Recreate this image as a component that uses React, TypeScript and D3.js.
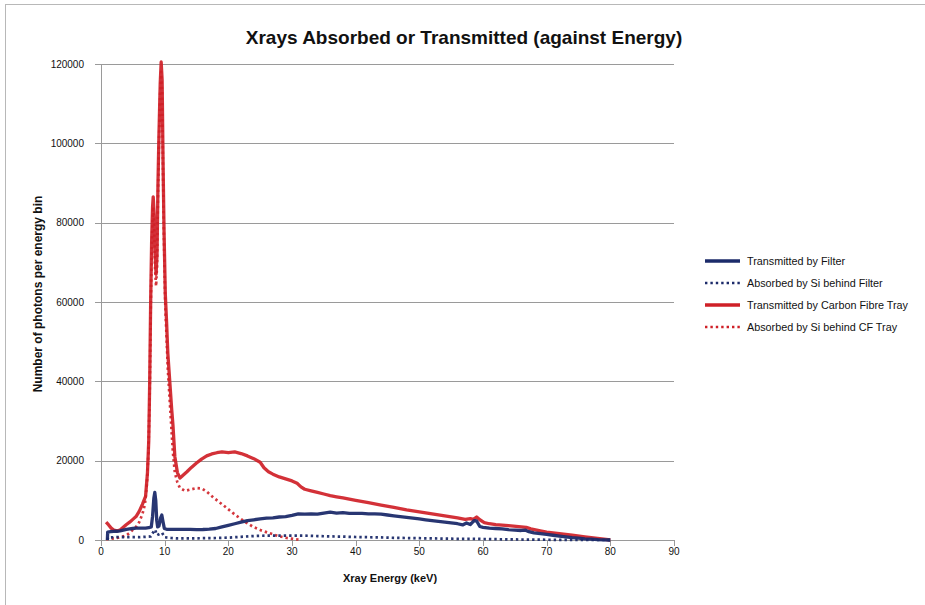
import React from "react";
import * as d3 from "d3";

const title = "Xrays Absorbed or Transmitted (against Energy)";
const xTicks = [0, 10, 20, 30, 40, 50, 60, 70, 80, 90];
const yTicks = [0, 20000, 40000, 60000, 80000, 100000, 120000];
const seriesNames = [
  "Transmitted by Filter",
  "Absorbed by Si behind Filter",
  "Transmitted by Carbon Fibre Tray",
  "Absorbed by Si behind CF Tray",
];

const transFilter: [number, number][] = [
  [1.0, 0], [1.05, 2000], [1.5, 2100], [2, 2200], [2.5, 2200], [3, 2300], [3.5, 2500], [4, 2700],
  [4.5, 2800], [5, 2900], [5.5, 3000], [6, 3000], [6.5, 3000], [7, 3000], [7.5, 3100], [7.9, 3300],
  [8.1, 6000], [8.3, 10500], [8.45, 12000], [8.6, 10000], [8.75, 5000], [8.9, 3300], [9.1, 3500],
  [9.35, 5500], [9.55, 6300], [9.75, 4500], [9.95, 2900], [10.3, 2700], [11, 2700], [12, 2700],
  [13, 2700], [14, 2700], [15, 2600], [16, 2650], [17, 2750], [18, 2900], [19, 3300], [20, 3700],
  [21, 4100], [22, 4500], [23, 4900], [24, 5100], [25, 5300], [26, 5500], [27, 5600], [28, 5800],
  [29, 5900], [30, 6200], [31, 6600], [32, 6500], [33, 6600], [34, 6500], [35, 6800], [36, 7000],
  [37, 6800], [38, 6900], [39, 6700], [40, 6700], [41, 6700], [42, 6600], [43, 6600], [44, 6500],
  [45, 6300], [46, 6100], [47, 5900], [48, 5700], [49, 5500], [50, 5300], [51, 5100], [52, 4900],
  [53, 4700], [54, 4500], [55, 4300], [56, 4100], [56.8, 3800], [57.4, 4300], [58, 3900],
  [58.6, 4900], [59, 4800], [59.5, 3400], [60, 3200], [61, 3000], [62, 2900], [63, 2800],
  [64, 2600], [65, 2500], [66, 2400], [66.6, 2500], [67.2, 2100], [68, 1800], [69, 1600],
  [70, 1400], [71, 1200], [72, 1000], [73, 800], [74, 600], [75, 450], [76, 300], [77, 200],
  [78, 100], [79, 50], [80, 0],
];

const absFilter: [number, number][] = [
  [1.0, 0], [1.1, 600], [2, 700], [3, 700], [4, 700], [5, 700], [6, 700], [7, 800], [7.8, 900],
  [8.3, 2200], [8.5, 2600], [8.8, 1200], [9.3, 1600], [9.6, 1800], [10, 700], [11, 500], [12, 400],
  [14, 400], [16, 450], [18, 500], [20, 600], [22, 800], [24, 1000], [26, 1100], [28, 1100],
  [30, 1100], [32, 1100], [34, 1000], [36, 900], [38, 850], [40, 750], [42, 700], [44, 650],
  [46, 550], [48, 500], [50, 450], [52, 400], [54, 350], [56, 300], [58, 300], [60, 250],
  [62, 200], [64, 150], [66, 120], [68, 100], [70, 60], [72, 40], [74, 20], [76, 10], [78, 5], [80, 0],
];

const transCF: [number, number][] = [
  [0.8, 4500], [1.2, 3800], [1.6, 3000], [2.0, 2500], [2.5, 2300], [3.0, 2500], [3.5, 3200],
  [4.0, 3900], [4.5, 4500], [5.0, 5200], [5.5, 5900], [6.0, 7200], [6.5, 9000], [7.0, 11000],
  [7.3, 17000], [7.5, 25000], [7.65, 40000], [7.8, 60000], [7.95, 75000], [8.1, 84000],
  [8.2, 86500], [8.35, 82000], [8.5, 72000], [8.65, 67000], [8.8, 72000], [8.95, 90000],
  [9.1, 102000], [9.3, 115000], [9.45, 120500], [9.6, 116000], [9.75, 95000], [9.9, 78000],
  [10.1, 62000], [10.3, 55000], [10.5, 47000], [10.8, 40000], [11.1, 33000], [11.3, 29000],
  [11.6, 21000], [12.0, 17000], [12.4, 15600], [12.8, 16200], [13.5, 17200], [14.2, 18300],
  [15.0, 19400], [15.8, 20400], [16.6, 21200], [17.4, 21700], [18.2, 22000], [19.0, 22200],
  [20.0, 22000], [21.0, 22200], [22.0, 21800], [23.0, 21200], [24.0, 20500], [25.0, 19600],
  [25.6, 18200], [26.3, 17200], [27.0, 16600], [28.0, 15900], [29.0, 15400], [30.0, 14900],
  [30.8, 14300], [31.4, 13400], [32.0, 12800], [33, 12400], [34, 12000], [35, 11600],
  [36, 11200], [37, 10900], [38, 10600], [39, 10300], [40, 10000], [42, 9400], [44, 8800],
  [46, 8200], [48, 7600], [50, 7100], [52, 6600], [54, 6100], [56, 5600], [57.2, 5200],
  [58, 5400], [58.5, 5200], [59, 5800], [59.5, 5100], [60.2, 4400], [61, 4100], [62, 3900],
  [64, 3600], [66, 3300], [66.8, 3200], [67.5, 2800], [69, 2300], [70, 2000], [72, 1600],
  [74, 1200], [76, 800], [78, 400], [80, 0],
];

const absCF: [number, number][] = [
  [0.8, 200], [1.5, 300], [2.5, 500], [3.5, 900], [4.1, 1300], [4.5, 1800], [5.0, 2600],
  [5.5, 3300], [6.0, 4500], [6.5, 6500], [6.9, 9000], [7.2, 14000], [7.45, 22000],
  [7.65, 37000], [7.8, 57000], [7.95, 72000], [8.1, 81000], [8.2, 84000], [8.35, 79000],
  [8.5, 68000], [8.65, 64000], [8.8, 69000], [8.95, 87000], [9.1, 100000], [9.3, 113000],
  [9.45, 118000], [9.6, 113000], [9.75, 92000], [9.9, 75000], [10.1, 59000], [10.3, 51000],
  [10.5, 43000], [10.8, 35000], [11.1, 27000], [11.3, 22000], [11.6, 17000], [12.0, 14500],
  [12.4, 13100], [13.2, 12400], [14.0, 12700], [15.0, 13100], [15.8, 13000], [16.6, 12200],
  [17.6, 10800], [18.7, 9400], [19.8, 8000], [20.8, 6700], [21.8, 5500], [22.8, 4400],
  [23.9, 3300], [25.2, 2400], [26.5, 1700], [27.8, 1000], [29.2, 500], [30.5, 200], [31.5, 50],
];

const NAVY = "#1c2b6a";
const RED = "#cf2027";

export default function App() {
  const W = 925;
  const H = 605;
  const x = d3.scaleLinear().domain([0, 90]).range([101, 674]);
  const y = d3.scaleLinear().domain([0, 120000]).range([540, 64]);
  const line = d3
    .line<[number, number]>()
    .x((d) => x(d[0]))
    .y((d) => y(d[1]))
    .curve(d3.curveLinear);
  const font = "Liberation Sans, Arial, Helvetica, sans-serif";
  const dash = "2.4 3";
  const legendStyles = [
    { color: NAVY, dashed: false },
    { color: NAVY, dashed: true },
    { color: RED, dashed: false },
    { color: RED, dashed: true },
  ];
  return (
    <svg
      width={W}
      height={H}
      style={{ position: "absolute", left: 0, top: 0, background: "#fff" }}
      fontFamily={font}
    >
      <rect x={5.5} y={4.5} width={1000} height={1000} fill="#fff" stroke="#b8b8b8" strokeWidth={1} />
      <text x={464} y={44} textAnchor="middle" fontSize={19} fontWeight="bold" fill="#111">
        {title}
      </text>
      {yTicks.map((t) => (
        <g key={t}>
          <line x1={95} x2={674} y1={Math.round(y(t)) + 0.5} y2={Math.round(y(t)) + 0.5} stroke="#9a9a9a" strokeWidth={1} />
          <text x={84} y={y(t) + 3.5} textAnchor="end" fontSize={10} fill="#111">
            {t}
          </text>
        </g>
      ))}
      <line x1={101.5} x2={101.5} y1={64} y2={540} stroke="#9a9a9a" strokeWidth={1} />
      {xTicks.map((t) => (
        <g key={t}>
          <line x1={Math.round(x(t)) + 0.5} x2={Math.round(x(t)) + 0.5} y1={540} y2={546} stroke="#9a9a9a" strokeWidth={1} />
          <text x={x(t)} y={555} textAnchor="middle" fontSize={10} fill="#111">
            {t}
          </text>
        </g>
      ))}
      <g fill="none" strokeLinejoin="round">
        <path d={line(absCF) || ""} stroke={RED} strokeWidth={2.7} strokeDasharray={dash} opacity={0.9} />
        <path d={line(transCF) || ""} stroke={RED} strokeWidth={3.3} opacity={0.92} />
        <path d={line(transFilter) || ""} stroke={NAVY} strokeWidth={3.3} opacity={0.95} />
        <path d={line(absFilter) || ""} stroke={NAVY} strokeWidth={2.7} strokeDasharray={dash} opacity={0.95} />
      </g>
      <text x={390} y={582} textAnchor="middle" fontSize={11} fontWeight="bold" fill="#111">
        Xray Energy (keV)
      </text>
      <text
        transform={`translate(42, 294) rotate(-90)`}
        textAnchor="middle"
        fontSize={12}
        fontWeight="bold"
        fill="#111"
      >
        Number of photons per energy bin
      </text>
      {seriesNames.map((name, i) => {
        const ly = 261 + i * 22;
        const s = legendStyles[i];
        return (
          <g key={name}>
            <line
              x1={705}
              x2={740}
              y1={ly}
              y2={ly}
              stroke={s.color}
              strokeWidth={s.dashed ? 2.7 : 3.4}
              strokeDasharray={s.dashed ? dash : undefined}
            />
            <text x={747} y={ly + 4} fontSize={10.8} fill="#111">
              {name}
            </text>
          </g>
        );
      })}
    </svg>
  );
}
